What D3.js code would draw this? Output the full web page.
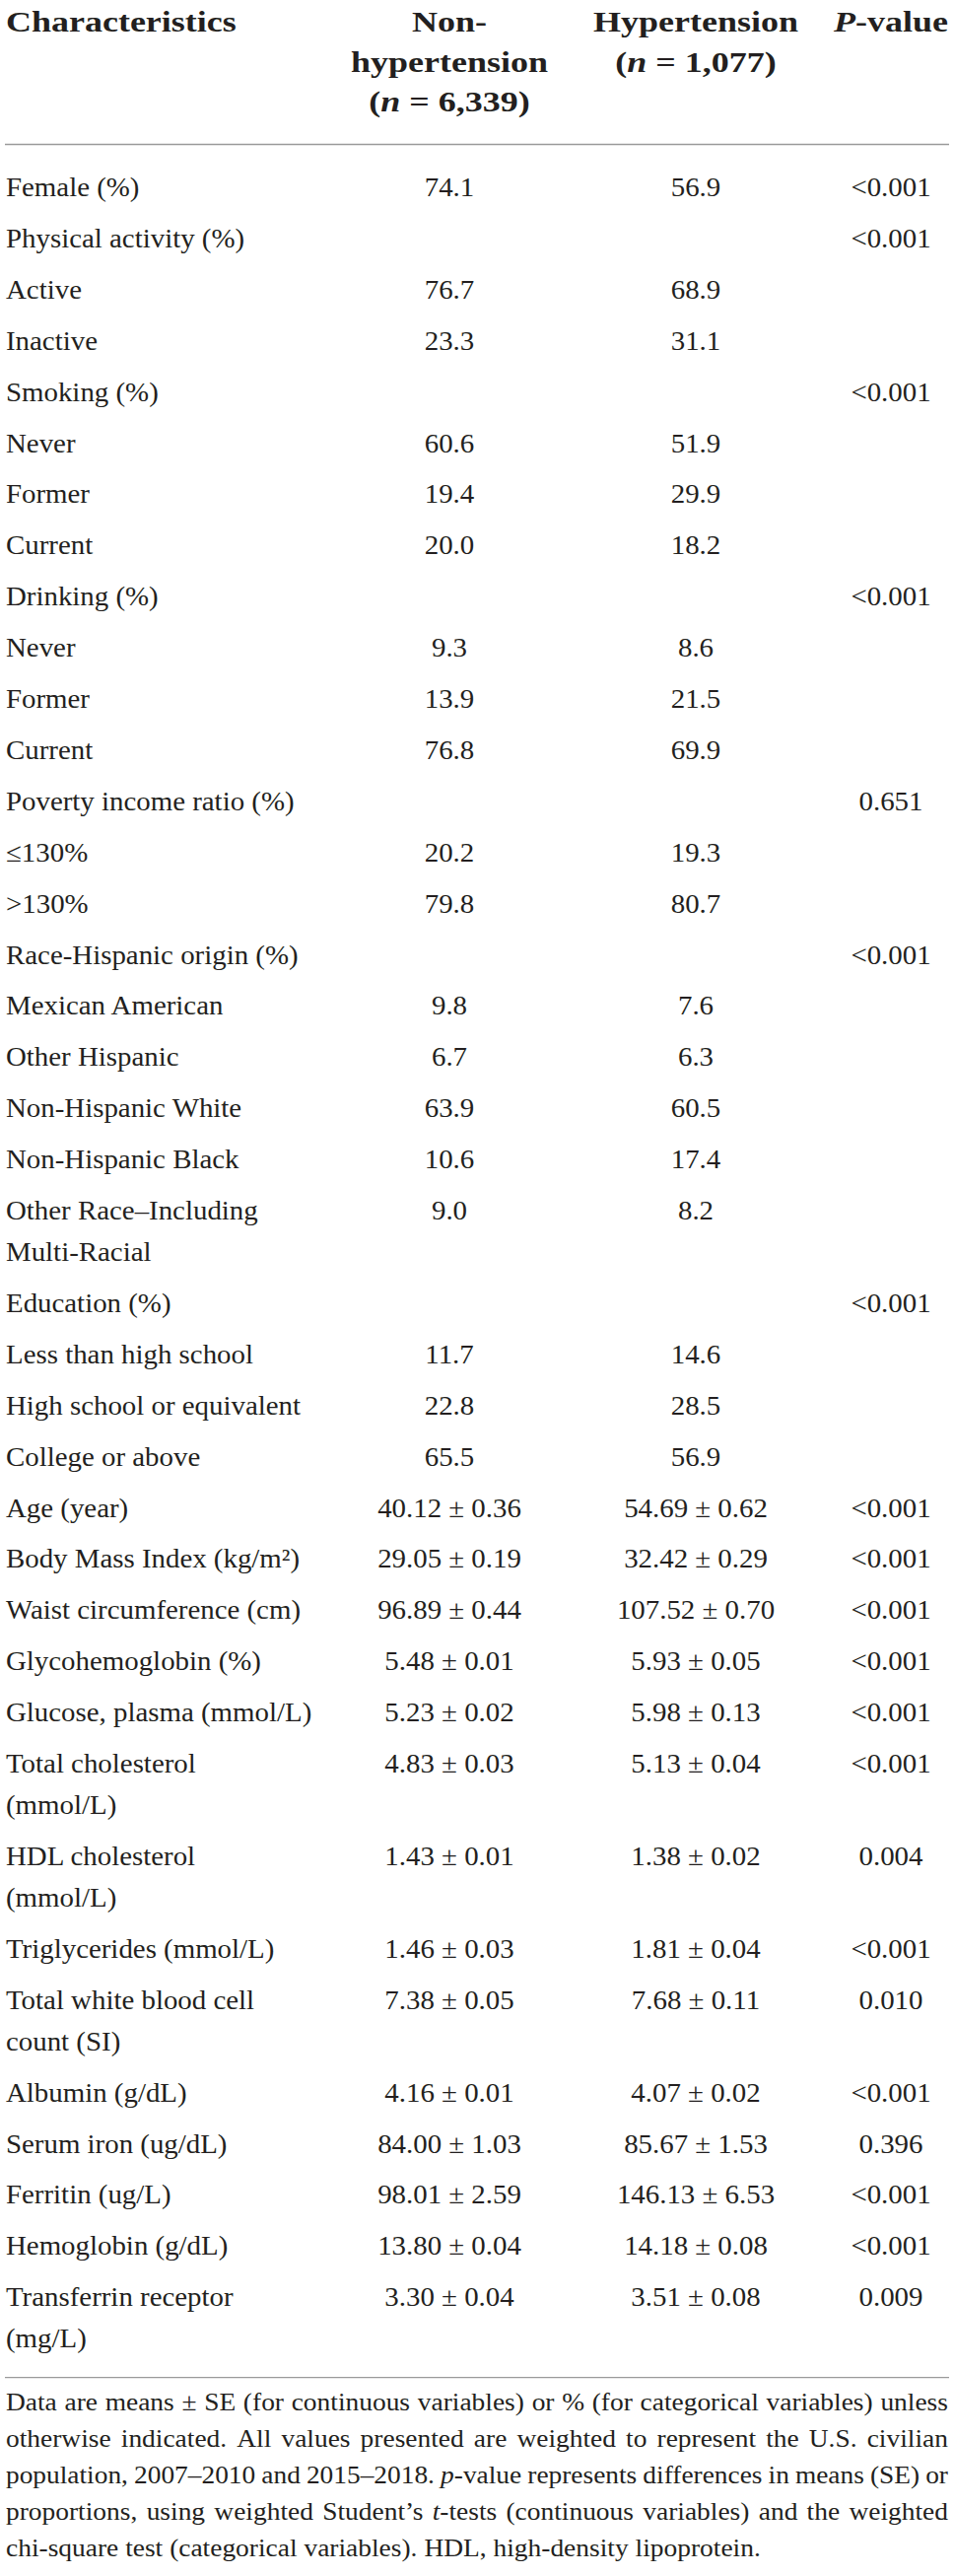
<!DOCTYPE html>
<html>
<head>
<meta charset="utf-8">
<script src="https://cdn.jsdelivr.net/npm/d3@7"></script>
<style>
  body { margin: 0; background: #fff; }
  svg text { font-family: "Liberation Serif", "Times New Roman", serif; fill: #231f20; }
</style>
</head>
<body>
<div id="table"></div>
<script>
// header cells, *...* = italic
var headCharacteristics = ["Characteristics"];
var headNonHyp = ["Non-", "hypertension", "(*n* = 6,339)"];
var headHyp = ["Hypertension", "(*n* = 1,077)"];
var headP = ["*P*-value"];

// row labels, "\n" = wrapped line
var labels = [
  "Female (%)", "Physical activity (%)", "Active", "Inactive",
  "Smoking (%)", "Never", "Former", "Current",
  "Drinking (%)", "Never", "Former", "Current",
  "Poverty income ratio (%)", "\u2264130%", ">130%",
  "Race-Hispanic origin (%)", "Mexican American", "Other Hispanic",
  "Non-Hispanic White", "Non-Hispanic Black", "Other Race\u2013Including\nMulti-Racial",
  "Education (%)", "Less than high school", "High school or equivalent", "College or above",
  "Age (year)", "Body Mass Index (kg/m\u00b2)", "Waist circumference (cm)",
  "Glycohemoglobin (%)", "Glucose, plasma (mmol/L)", "Total cholesterol\n(mmol/L)",
  "HDL cholesterol\n(mmol/L)", "Triglycerides (mmol/L)", "Total white blood cell\ncount (SI)",
  "Albumin (g/dL)", "Serum iron (ug/dL)", "Ferritin (ug/L)", "Hemoglobin (g/dL)",
  "Transferrin receptor\n(mg/L)"
];

var nonHyp = [
  "74.1", "", "76.7", "23.3",
  "", "60.6", "19.4", "20.0",
  "", "9.3", "13.9", "76.8",
  "", "20.2", "79.8",
  "", "9.8", "6.7", "63.9", "10.6", "9.0",
  "", "11.7", "22.8", "65.5",
  "40.12 \u00b1 0.36", "29.05 \u00b1 0.19", "96.89 \u00b1 0.44",
  "5.48 \u00b1 0.01", "5.23 \u00b1 0.02", "4.83 \u00b1 0.03",
  "1.43 \u00b1 0.01", "1.46 \u00b1 0.03", "7.38 \u00b1 0.05",
  "4.16 \u00b1 0.01", "84.00 \u00b1 1.03", "98.01 \u00b1 2.59", "13.80 \u00b1 0.04",
  "3.30 \u00b1 0.04"
];

var hyp = [
  "56.9", "", "68.9", "31.1",
  "", "51.9", "29.9", "18.2",
  "", "8.6", "21.5", "69.9",
  "", "19.3", "80.7",
  "", "7.6", "6.3", "60.5", "17.4", "8.2",
  "", "14.6", "28.5", "56.9",
  "54.69 \u00b1 0.62", "32.42 \u00b1 0.29", "107.52 \u00b1 0.70",
  "5.93 \u00b1 0.05", "5.98 \u00b1 0.13", "5.13 \u00b1 0.04",
  "1.38 \u00b1 0.02", "1.81 \u00b1 0.04", "7.68 \u00b1 0.11",
  "4.07 \u00b1 0.02", "85.67 \u00b1 1.53", "146.13 \u00b1 6.53", "14.18 \u00b1 0.08",
  "3.51 \u00b1 0.08"
];

var pValues = [
  "<0.001", "<0.001", "", "",
  "<0.001", "", "", "",
  "<0.001", "", "", "",
  "0.651", "", "",
  "<0.001", "", "", "", "", "",
  "<0.001", "", "", "",
  "<0.001", "<0.001", "<0.001",
  "<0.001", "<0.001", "<0.001",
  "0.004", "<0.001", "0.010",
  "<0.001", "0.396", "<0.001", "<0.001",
  "0.009"
];

var footnoteLines = [
  "Data are means \u00b1 SE (for continuous variables) or % (for categorical variables) unless",
  "otherwise indicated. All values presented are weighted to represent the U.S. civilian",
  "population, 2007\u20132010 and 2015\u20132018. *p*-value represents differences in means (SE) or",
  "proportions, using weighted Student\u2019s *t*-tests (continuous variables) and the weighted",
  "chi-square test (categorical variables). HDL, high-density lipoprotein."
];

function draw() {
  "use strict";
  var width = 968,
      height = 2613,
      left = 6,
      right = 962,
      bodyStretch = 1.05;

  var svg = d3.select("#table")
      .append("svg")
      .attr("width", width)
      .attr("height", height);

  // text with italic parts marked by *...*
  function addSegments(sel, str) {
    str.split(/(\*[^*]+\*)/).forEach(function (part) {
      if (!part) { return; }
      var italic = part.charAt(0) === "*";
      sel.append("tspan")
          .style("font-style", italic ? "italic" : null)
          .text(italic ? part.slice(1, -1) : part);
    });
  }

  //column positions
  var x = d3.scaleOrdinal()
      .domain(["label", "non", "hyp", "p"])
      .range([left, 456, 706, 904]);

  //header
  var headY = d3.scaleLinear().domain([0, 1]).range([32, 72.5]);
  var headers = [
    {col: "label", lines: headCharacteristics, anchor: "start"},
    {col: "non", lines: headNonHyp, anchor: "middle"},
    {col: "hyp", lines: headHyp, anchor: "middle"},
    {col: "p", lines: headP, anchor: "middle"}
  ];
  headers.forEach(function (h) {
    h.lines.forEach(function (line, i) {
      var t = svg.append("text")
          .attr("transform", "translate(" + x(h.col) + "," + headY(i) + ") scale(1.18,1)")
          .attr("text-anchor", h.anchor)
          .style("font-size", "30.5px")
          .style("font-weight", "bold");
      addSegments(t, line);
    });
  });

  //rules
  svg.append("line")
      .attr("x1", 5).attr("x2", 963)
      .attr("y1", 146.5).attr("y2", 146.5)
      .style("stroke", "#9a9a9a").style("stroke-width", 1.3);

  //rows, extra height for wrapped labels
  var wrapRatio = 42 / 51.9;
  var extra = labels.map(function (l) { return l.split("\n").length - 1; });
  var before = [0].concat(Array.from(d3.cumsum(extra))).slice(0, labels.length);
  var rowY = d3.scaleLinear().domain([0, 1]).range([199, 250.9]);
  var lineY = function (i, k) {
    return rowY(i + (before[i] + k) * wrapRatio);
  };

  var rows = svg.append("g").attr("class", "rows")
      .style("font-size", "27.5px");

  function place(px, py) {
    return "translate(" + px + "," + py + ") scale(" + bodyStretch + ",1)";
  }

  labels.forEach(function (label, i) {
    label.split("\n").forEach(function (line, k) {
      rows.append("text")
          .attr("transform", place(x("label"), lineY(i, k)))
          .text(line);
    });
    [["non", nonHyp[i]], ["hyp", hyp[i]], ["p", pValues[i]]].forEach(function (c) {
      if (!c[1]) { return; }
      rows.append("text")
          .attr("transform", place(x(c[0]), lineY(i, 0)))
          .attr("text-anchor", "middle")
          .text(c[1]);
    });
  });

  var lastY = lineY(labels.length - 1, extra[labels.length - 1]);
  var ruleY = lastY + 30.5;
  svg.append("line")
      .attr("x1", 5).attr("x2", 963)
      .attr("y1", ruleY).attr("y2", ruleY)
      .style("stroke", "#9a9a9a").style("stroke-width", 1.3);

  //footnote, justified line by line
  var fs = 24.5;
  var noteY = d3.scaleLinear().domain([0, 1]).range([ruleY + 33, ruleY + 70]);
  var avail = right - left;
  footnoteLines.forEach(function (line, k) {
    var g = svg.append("g").style("font-size", fs + "px");
    var words = line.split(" ");
    var nodes = words.map(function (w) {
      var t = g.append("text").attr("x", 0).attr("y", 0);
      addSegments(t, w);
      return t;
    });
    var widths = nodes.map(function (t) { return t.node().getComputedTextLength(); });
    var total = d3.sum(widths);
    var last = k === footnoteLines.length - 1;
    var sx = Math.min(1.12, avail / (total + (words.length - 1) * 0.22 * fs));
    var gap = last ? 0.25 * fs * sx : (avail - total * sx) / (words.length - 1);
    var cx = left;
    nodes.forEach(function (t, j) {
      t.attr("transform", "translate(" + cx + "," + noteY(k) + ") scale(" + sx + ",1)");
      cx += widths[j] * sx + gap;
    });
  });
}

draw();
</script>
</body>
</html>
